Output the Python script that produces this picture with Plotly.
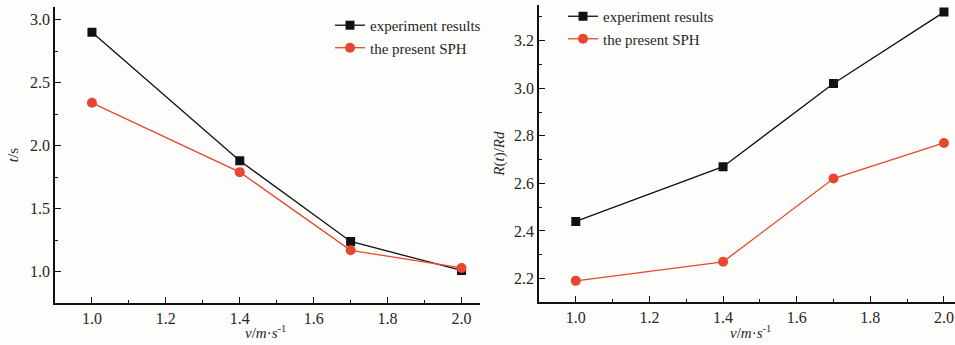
import plotly.graph_objects as go

v = [1.0, 1.4, 1.7, 2.0]
t_exp = [2.90, 1.88, 1.24, 1.01]
t_sph = [2.34, 1.79, 1.17, 1.03]
r_exp = [2.44, 2.67, 3.02, 3.32]
r_sph = [2.19, 2.27, 2.62, 2.77]

W, H = 955, 345
BLACK = "#111111"
RED = "#E8472F"
FONT = "Liberation Serif"
TXT = "#262626"

fig = go.Figure()
fig.add_trace(go.Scatter(x=v, y=t_exp, mode="lines+markers", name="experiment results",
                         line=dict(color=BLACK, width=1.3), marker=dict(symbol="square", size=9, color=BLACK),
                         xaxis="x", yaxis="y", legend="legend"))
fig.add_trace(go.Scatter(x=v, y=t_sph, mode="lines+markers", name="the present SPH",
                         line=dict(color=RED, width=1.3), marker=dict(symbol="circle", size=10, color=RED),
                         xaxis="x", yaxis="y", legend="legend"))
fig.add_trace(go.Scatter(x=v, y=r_exp, mode="lines+markers", name="experiment results",
                         line=dict(color=BLACK, width=1.3), marker=dict(symbol="square", size=9, color=BLACK),
                         xaxis="x2", yaxis="y2", legend="legend2"))
fig.add_trace(go.Scatter(x=v, y=r_sph, mode="lines+markers", name="the present SPH",
                         line=dict(color=RED, width=1.3), marker=dict(symbol="circle", size=10, color=RED),
                         xaxis="x2", yaxis="y2", legend="legend2"))

def ax(**kw):
    d = dict(showline=True, linecolor=BLACK, linewidth=1.5, ticks="inside", ticklen=6,
             tickwidth=1.3, tickcolor=BLACK, showgrid=False, zeroline=False, automargin=False,
             tickfont=dict(family=FONT, size=16, color=TXT), mirror=False)
    d.update(kw)
    return d

xt = dict(tickmode="linear", dtick=0.2, tick0=0.0, tickformat=".1f",
          minor=dict(ticks="inside", ticklen=3, tickwidth=1.2, tickcolor=BLACK, dtick=0.1, tick0=0.0))
xtitle_text = "<i>v</i>/<i>m</i>·<i>s</i><sup>-1</sup>"

fig.update_layout(
    width=W, height=H, margin=dict(l=0, r=0, t=0, b=0),
    paper_bgcolor="#fdfdfc", plot_bgcolor="#fdfdfc",
    xaxis=ax(domain=[55 / W, 480 / W], range=[0.9, 2.05], anchor="y", **xt),
    yaxis=ax(domain=[42 / H, 340 / H], range=[0.75, 3.1], anchor="x", tickmode="linear", dtick=0.5, tick0=0,
             tickformat=".1f",
             minor=dict(ticks="inside", ticklen=3, tickwidth=1.2, tickcolor=BLACK, dtick=0.25, tick0=0),
             title=dict(text="<i>t</i>/s", font=dict(family=FONT, size=15, color=TXT), standoff=8)),
    xaxis2=ax(domain=[539 / W, 1.0], range=[0.9, 2.03], anchor="y2", **xt),
    yaxis2=ax(domain=[43 / H, 342 / H], range=[2.1, 3.35], anchor="x2", tickmode="linear", dtick=0.2, tick0=0,
              tickformat=".1f",
              minor=dict(ticks="inside", ticklen=3, tickwidth=1.2, tickcolor=BLACK, dtick=0.1, tick0=0),
              title=dict(text="<i>R</i>(<i>t</i>)/<i>Rd</i>", font=dict(family=FONT, size=15, color=TXT), standoff=6)),
    legend=dict(x=330 / W, y=1 - 7 / H, xanchor="left", yanchor="top", bgcolor="rgba(0,0,0,0)",
                font=dict(family=FONT, size=15, color=TXT), tracegroupgap=0, itemwidth=30),
    legend2=dict(x=563 / W, y=1 + 2 / H, xanchor="left", yanchor="top", bgcolor="rgba(0,0,0,0)",
                 font=dict(family=FONT, size=15, color=TXT), tracegroupgap=0, itemwidth=30),
    showlegend=True,
    annotations=[
        dict(text=xtitle_text, xref="paper", yref="paper", x=265 / W, y=1 - 332 / H, showarrow=False,
             xanchor="center", yanchor="middle", font=dict(family=FONT, size=15, color=TXT)),
        dict(text=xtitle_text, xref="paper", yref="paper", x=750 / W, y=1 - 332 / H, showarrow=False,
             xanchor="center", yanchor="middle", font=dict(family=FONT, size=15, color=TXT)),
    ],
)

fig.write_html("out.html", config={"displayModeBar": False},
               post_script="document.body.style.margin='0';document.body.style.overflow='hidden';")
